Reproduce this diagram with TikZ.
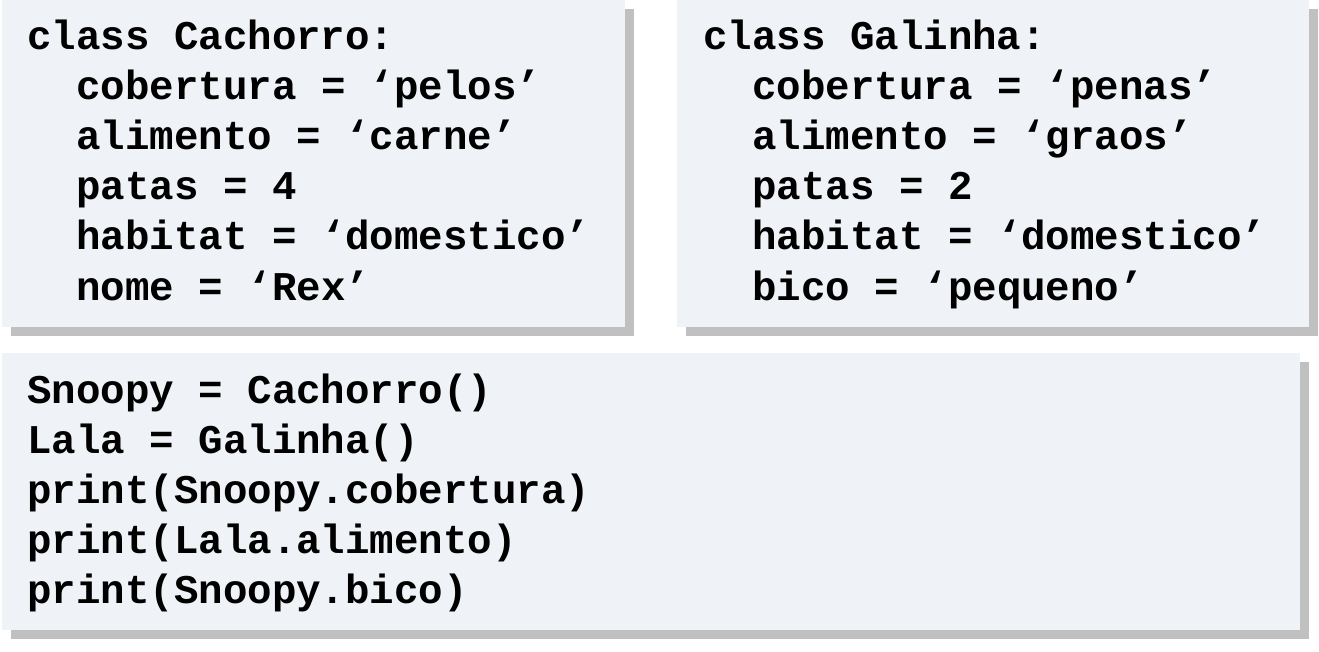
\documentclass[tikz,border=0pt]{standalone}
\usepackage{fontspec}
\setmonofont{Liberation Mono}
\definecolor{boxfill}{RGB}{239,243,247}
\definecolor{shadowgray}{RGB}{192,192,192}
\begin{document}
\begin{tikzpicture}[x=1pt,y=-1pt,
  codebox/.style={fill=boxfill,draw=none},
  boxshadow/.style={fill=shadowgray,draw=none},
  codeline/.style={anchor=base west,inner sep=0pt,font=\fontsize{40.8}{50}\selectfont\ttfamily\bfseries}]
\useasboundingbox (0,0) rectangle (1319,652);
\fill[white] (0,0) rectangle (1319,652);
% shadows
\fill[boxshadow] (11,9) rectangle (634,336);
\fill[boxshadow] (686,9) rectangle (1318,336);
\fill[boxshadow] (11,362) rectangle (1309,639);
% boxes
\fill[codebox] (2,0) rectangle (625,327);
\fill[codebox] (677,0) rectangle (1309,327);
\fill[codebox] (2,353) rectangle (1300,630);
% box 1
\node[codeline] (a1) at (27,50) {class Cachorro:};
\node[codeline] (a2) at (76,100) {cobertura = ‘pelos’};
\node[codeline] (a3) at (76,150) {alimento = ‘carne’};
\node[codeline] (a4) at (76,200) {patas = 4};
\node[codeline] (a5) at (76,250) {habitat = ‘domestico’};
\node[codeline] (a6) at (76,300) {nome = ‘Rex’};
% box 2
\node[codeline] (b1) at (703,50) {class Galinha:};
\node[codeline] (b2) at (752,100) {cobertura = ‘penas’};
\node[codeline] (b3) at (752,150) {alimento = ‘graos’};
\node[codeline] (b4) at (752,200) {patas = 2};
\node[codeline] (b5) at (752,250) {habitat = ‘domestico’};
\node[codeline] (b6) at (752,300) {bico = ‘pequeno’};
% box 3
\node[codeline] (c1) at (27,403) {Snoopy = Cachorro()};
\node[codeline] (c2) at (27,453) {Lala = Galinha()};
\node[codeline] (c3) at (27,503) {print(Snoopy.cobertura)};
\node[codeline] (c4) at (27,553) {print(Lala.alimento)};
\node[codeline] (c5) at (27,603) {print(Snoopy.bico)};
\end{tikzpicture}
\end{document}
